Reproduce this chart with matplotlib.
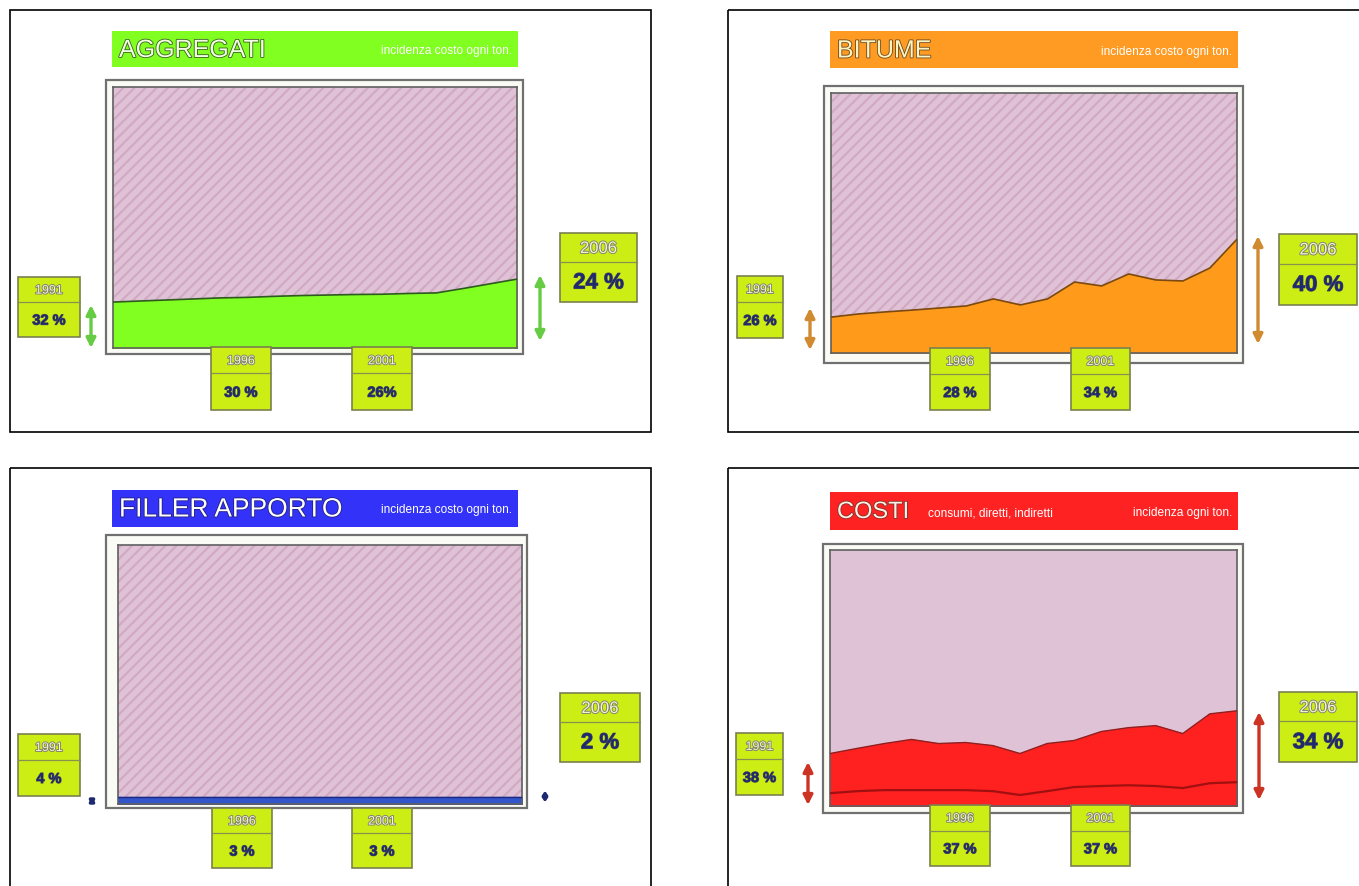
import matplotlib.pyplot as plt
import matplotlib.patheffects as pe
from matplotlib.patches import Rectangle, FancyArrowPatch

plt.rcParams['font.family'] = ['Liberation Sans', 'DejaVu Sans']
plt.rcParams['hatch.linewidth'] = 1.6

W, H = 1359, 886

# Data (area height in % of the plot box)
years = list(range(1991, 2007))
aggregati = [17.6, 18.0, 18.4, 18.8, 19.2, 19.4, 19.8, 20.1, 20.3, 20.5, 20.6, 20.9, 21.1, 22.8, 24.6, 26.4]
bitume = [13.8, 15.0, 15.8, 16.5, 17.3, 18.1, 20.8, 18.5, 20.8, 27.3, 25.8, 30.4, 28.1, 27.7, 32.7, 43.8]
filler = [2.8, 2.8, 2.8, 2.8, 2.8, 2.8, 2.8, 2.8, 2.8, 2.8, 2.8, 2.8, 2.8, 2.8, 2.8, 2.8]
costi = [20.5, 22.5, 24.4, 26.0, 24.4, 24.8, 23.6, 20.5, 24.4, 25.6, 29.1, 30.6, 31.4, 28.3, 36.0, 37.2]
costi_base = [5.0, 5.8, 6.2, 6.2, 6.2, 6.2, 5.8, 4.3, 5.8, 7.4, 7.8, 8.1, 7.8, 7.0, 8.9, 9.3]

label_years = ['1991', '1996', '2001', '2006']
aggregati_pct = ['32 %', '30 %', '26%', '24 %']
bitume_pct = ['26 %', '28 %', '34 %', '40 %']
filler_pct = ['4 %', '3 %', '3 %', '2 %']
costi_pct = ['38 %', '37 %', '37 %', '34 %']

PINK = '#E0C2D6'
HATCH = '#D2A9C4'
BOXFILL = '#CCEE14'


def px_axes(x0, y0, x1, y1, z=1):
    return fig.add_axes([x0 / W, 1 - y1 / H, (x1 - x0) / W, (y1 - y0) / H], zorder=z)


fig = plt.figure(figsize=(W / 100, H / 100), dpi=100)
bg = px_axes(0, 0, W, H, z=0)
bg.set_xlim(0, W); bg.set_ylim(H, 0); bg.axis('off')
fg = px_axes(0, 0, W, H, z=3)
fg.set_xlim(0, W); fg.set_ylim(H, 0); fg.axis('off')
fg.patch.set_alpha(0)

# panel borders
for x0, y0, x1, y1 in [(10, 10, 651, 432), (728, 10, 1362, 432), (10, 468, 651, 890), (728, 468, 1362, 890)]:
    bg.add_patch(Rectangle((x0, y0), x1 - x0, y1 - y0, fill=False, ec='black', lw=1.2))


def title_bar(box, color, title, tsize, sub, sub2=None, tcolor='white', shadow='#404040'):
    x0, y0, x1, y1 = box
    bg.add_patch(Rectangle((x0, y0), x1 - x0, y1 - y0, fc=color, ec='none'))
    bg.text(x0 + 7, (y0 + y1) / 2 + 1, title, fontsize=tsize, color=tcolor, va='center', ha='left',
            path_effects=[pe.withStroke(linewidth=1.2, foreground=shadow)])
    bg.text(x1 - 6, (y0 + y1) / 2 + 2, sub, fontsize=8.6, color='white', va='center', ha='right')
    if sub2:
        bg.text(x0 + 98, (y0 + y1) / 2 + 2, sub2, fontsize=8.6, color='white', va='center', ha='left')


def frame(outer, inner, hatch=True):
    ox0, oy0, ox1, oy1 = outer
    bg.add_patch(Rectangle((ox0, oy0), ox1 - ox0, oy1 - oy0, fc='#FBFBF6', ec='#707070', lw=1.6))
    ax = px_axes(*inner, z=1)
    ax.set_facecolor(PINK)
    if hatch:
        ax.add_patch(Rectangle((0, 0), 1, 1, transform=ax.transAxes, fc=PINK, ec=HATCH, hatch='///', lw=0))
    ax.set_xlim(years[0], years[-1])
    ax.set_ylim(0, 100)
    ax.set_xticks([]); ax.set_yticks([])
    for s in ax.spines.values():
        s.set_color('#606060'); s.set_linewidth(1.2)
    return ax


def label_box(box, year, pct, big=False):
    x0, y0, x1, y1 = box
    mid = y0 + (y1 - y0) * 0.42
    fg.add_patch(Rectangle((x0, y0), x1 - x0, y1 - y0, fc=BOXFILL, ec='#7A8050', lw=1.2))
    fg.plot([x0, x1], [mid, mid], color='#8A9050', lw=0.9)
    fg.text((x0 + x1) / 2, (y0 + mid) / 2 + 1, year, fontsize=12 if big else 9, color='#F4F4D0',
            ha='center', va='center', path_effects=[pe.withStroke(linewidth=1.3, foreground='#808070')])
    fg.text((x0 + x1) / 2, (mid + y1) / 2 + 1, pct, fontsize=16 if big else 10.5, color='#1E2A70',
            ha='center', va='center', fontweight='bold',
            path_effects=[pe.withStroke(linewidth=0.8, foreground='#505050')])


def arrow(x, y0, y1, color, scale=14):
    fg.add_patch(FancyArrowPatch((x, y0), (x, y1), arrowstyle='<|-|>', mutation_scale=scale,
                                 color=color, lw=2.4, shrinkA=0, shrinkB=0))


def labels(boxes, pcts):
    for i, (b, y, p) in enumerate(zip(boxes, label_years, pcts)):
        label_box(b, y, p, big=(i == 3))


# AGGREGATI
title_bar((112, 31, 518, 67), '#80FF20', 'AGGREGATI', 18, 'incidenza costo ogni ton.', tcolor='#F0FFE0', shadow='#3A6020')
ax = frame((106, 80, 523, 354), (113, 87, 517, 348))
ax.fill_between(years, aggregati, 0, color='#80FF20', zorder=2)
ax.plot(years, aggregati, color='#2E5A20', lw=1.2, zorder=3)
labels([(18, 277, 80, 337), (211, 347, 271, 410), (352, 347, 412, 410), (560, 233, 637, 302)], aggregati_pct)
arrow(91, 305, 348, '#66CC44')
arrow(540, 275, 341, '#66CC44')

# BITUME
title_bar((830, 31, 1238, 68), '#FF9A22', 'BITUME', 18, 'incidenza costo ogni ton.', tcolor='#FFF4C0', shadow='#6A4A20')
ax = frame((824, 86, 1243, 363), (831, 93, 1237, 353))
ax.fill_between(years, bitume, 0, color='#FF9A1A', zorder=2)
ax.plot(years, bitume, color='#7A4A10', lw=1.2, zorder=3)
labels([(737, 276, 783, 338), (930, 348, 990, 410), (1071, 348, 1130, 410), (1279, 234, 1357, 305)], bitume_pct)
arrow(810, 308, 350, '#D08A30')
arrow(1258, 236, 344, '#D08A30')

# FILLER APPORTO
title_bar((112, 490, 518, 527), '#3232F8', 'FILLER APPORTO', 19, 'incidenza costo ogni ton.', shadow='#20208A')
ax = frame((106, 535, 527, 808), (118, 545, 522, 804))
ax.fill_between(years, filler, 0, color='#3355CC', zorder=2)
ax.plot(years, filler, color='#1E2A80', lw=1.0, zorder=3)
labels([(18, 734, 80, 796), (212, 808, 272, 868), (352, 808, 412, 868), (560, 693, 640, 762)], filler_pct)
arrow(92, 796, 806, '#1E2A70', scale=6)
arrow(545, 790, 803, '#1E2A70', scale=6)

# COSTI
title_bar((830, 492, 1238, 530), '#FF2222', 'COSTI', 17, 'incidenza ogni ton.', sub2='consumi, diretti, indiretti',
          tcolor='#FFF0E0', shadow='#803030')
ax = frame((823, 544, 1243, 813), (830, 550, 1237, 806), hatch=False)
ax.fill_between(years, costi, 0, color='#FF2020', zorder=2)
ax.plot(years, costi, color='#902020', lw=1.0, zorder=3)
ax.plot(years, costi_base, color='#A01010', lw=1.6, zorder=3)
labels([(736, 733, 783, 795), (930, 805, 990, 866), (1071, 805, 1130, 866), (1279, 692, 1357, 762)], costi_pct)
arrow(808, 762, 805, '#CC3322')
arrow(1259, 712, 800, '#CC3322')

fig.savefig('out.png', dpi=100)
